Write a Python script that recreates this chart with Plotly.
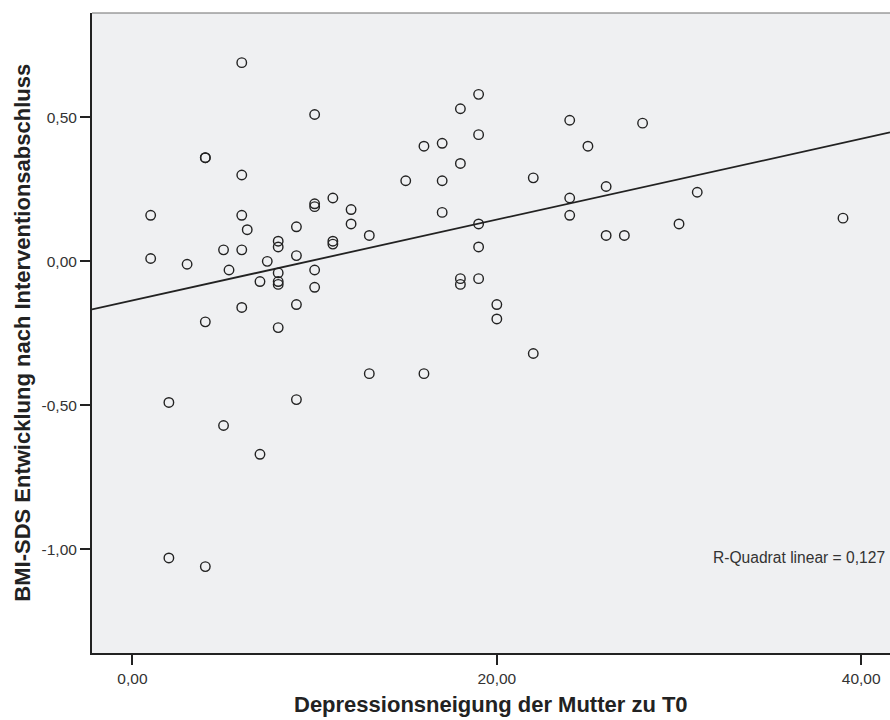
import plotly.graph_objects as go

# Data
depression_t0 = [6, 10, 4, 4, 6, 1, 6, 11, 10, 10, 12, 12, 6.3, 9, 13, 8, 8, 11, 11, 5,
                 6, 1, 3, 7.4, 9, 5.3, 8, 8, 8, 7, 10, 10, 9, 6, 4, 8, 13, 16, 2, 9,
                 5, 7, 2, 4, 19, 18, 19, 16, 17, 18, 15, 17, 17, 19, 19, 18, 18, 19, 22, 24,
                 25, 24, 24, 26, 26, 27, 28, 30, 20, 20, 22, 31, 39]
bmi_sds_change = [0.69, 0.51, 0.36, 0.36, 0.30, 0.16, 0.16, 0.22, 0.20, 0.19, 0.18, 0.13, 0.11, 0.12, 0.09, 0.07, 0.05, 0.07, 0.06, 0.04,
                  0.04, 0.01, -0.01, 0.00, 0.02, -0.03, -0.04, -0.07, -0.08, -0.07, -0.03, -0.09, -0.15, -0.16, -0.21, -0.23, -0.39, -0.39, -0.49, -0.48,
                  -0.57, -0.67, -1.03, -1.06, 0.58, 0.53, 0.44, 0.40, 0.41, 0.34, 0.28, 0.28, 0.17, 0.13, 0.05, -0.06, -0.08, -0.06, 0.29, 0.49,
                  0.40, 0.22, 0.16, 0.26, 0.09, 0.09, 0.48, 0.13, -0.15, -0.20, -0.32, 0.24, 0.15]

fit_intercept = -0.1356
fit_slope = 0.01403
r_squared_label = "R-Quadrat linear = 0,127"

x_tick_vals = [0, 20, 40]
x_tick_text = ["0,00", "20,00", "40,00"]
y_tick_vals = [-1.0, -0.5, 0.0, 0.5]
y_tick_text = ["-1,00", "-0,50", "0,00", "0,50"]

x_title = "Depressionsneigung der Mutter zu T0"
y_title = "BMI-SDS Entwicklung nach Interventionsabschluss"

X_RANGE = [-2.22, 41.58]
Y_RANGE = [-1.360, 0.8625]

FONT = "Arial, 'Liberation Sans', sans-serif"
INK = "#222222"

fig = go.Figure()

fit_x = [X_RANGE[0], X_RANGE[1]]
fit_y = [fit_intercept + fit_slope * v for v in fit_x]
fig.add_trace(go.Scatter(
    x=fit_x, y=fit_y, mode="lines",
    line=dict(color=INK, width=1.8),
    hoverinfo="skip", showlegend=False,
))

fig.add_trace(go.Scatter(
    x=depression_t0, y=bmi_sds_change, mode="markers",
    marker=dict(symbol="circle-open", size=9.5, color=INK, line=dict(width=1.4, color=INK)),
    showlegend=False,
))

fig.update_layout(
    width=890, height=720,
    margin=dict(l=92, r=0, t=13, b=67),
    paper_bgcolor="white",
    plot_bgcolor="#EFF0F2",
    font=dict(family=FONT, color="#333333"),
    showlegend=False,
)

fig.update_xaxes(
    range=X_RANGE, showgrid=False, zeroline=False,
    tickvals=x_tick_vals, ticktext=x_tick_text,
    ticks="outside", ticklen=10, tickwidth=1.5, tickcolor=INK,
    tickfont=dict(size=15.5, color="#333333", family=FONT),
    showline=True, linecolor=INK, linewidth=2,
)
fig.update_yaxes(
    range=Y_RANGE, showgrid=False, zeroline=False,
    tickvals=y_tick_vals, ticktext=y_tick_text,
    ticks="outside", ticklen=10, tickwidth=1.5, tickcolor=INK,
    tickfont=dict(size=15.5, color="#333333", family=FONT),
    showline=True, linecolor=INK, linewidth=2,
)

# top frame line (gray)
fig.add_shape(type="line", xref="paper", yref="paper", x0=0, x1=1, y0=1, y1=1,
              line=dict(color="#6f6f6f", width=1.2))

fig.add_annotation(
    x=31.74, y=-1.028, xref="x", yref="y", text=r_squared_label,
    showarrow=False, xanchor="left", yanchor="middle",
    font=dict(size=15.6, color="#333333", family=FONT),
)

fig.add_annotation(
    x=0.5, y=-0.081, xref="paper", yref="paper", text="<b>" + x_title + "</b>",
    showarrow=False, xanchor="center", yanchor="middle",
    font=dict(size=22, color="#222222", family=FONT),
)
fig.add_annotation(
    x=-0.0881, y=0.5, xref="paper", yref="paper", text="<b>" + y_title + "</b>",
    showarrow=False, xanchor="center", yanchor="middle", textangle=-90,
    font=dict(size=22, color="#222222", family=FONT),
)

fig.write_html("out.html")
